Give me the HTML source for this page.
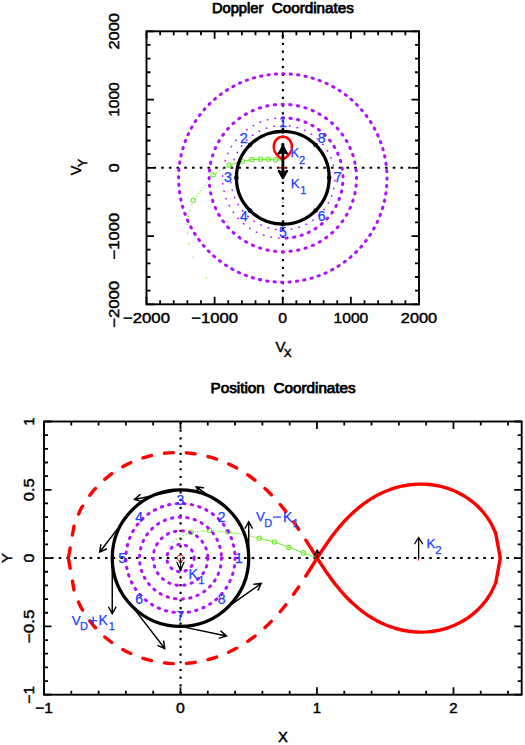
<!DOCTYPE html>
<html><head><meta charset="utf-8"><style>
html,body{margin:0;padding:0;background:#fff;width:525px;height:745px;overflow:hidden}
svg{display:block}
text{font-family:"Liberation Sans",sans-serif}
</style></head><body>
<svg width="525" height="745" viewBox="0 0 525 745">
<rect width="525" height="745" fill="#fff"/>
<line x1="146.5" y1="167.8" x2="419" y2="167.8" stroke="#000" stroke-width="2.0" stroke-dasharray="2.6 5.12" stroke-dashoffset="0.8"/>
<line x1="282.9" y1="31.3" x2="282.9" y2="304.3" stroke="#000" stroke-width="2.2" stroke-dasharray="2.2 5.52" stroke-dashoffset="3.94"/>
<path d="M282,160.2 L275.6,159.8 L268.3,159.3 L260.6,159.3 L251.9,159.6 L242.2,161.3 L229.2,165.3" fill="none" stroke="#66f022" stroke-width="1"/>
<path d="M229.2,165.3 L213.1,174.8 L193.3,200.2" fill="none" stroke="#66f022" stroke-width="1.1" stroke-dasharray="1 2.5"/>
<rect x="191.2" y="203.9" width="1.2" height="1.2" fill="#66f022"/>
<rect x="189.2" y="209.8" width="1.2" height="1.2" fill="#66f022"/>
<rect x="187.8" y="215.9" width="1.2" height="1.2" fill="#66f022"/>
<rect x="186.9" y="223.7" width="1.2" height="1.2" fill="#66f022"/>
<rect x="186.9" y="232.4" width="1.2" height="1.2" fill="#66f022"/>
<rect x="188.2" y="242.9" width="1.2" height="1.2" fill="#66f022"/>
<rect x="192.5" y="256.6" width="1.2" height="1.2" fill="#66f022"/>
<rect x="205.7" y="277" width="1.2" height="1.2" fill="#66f022"/>
<circle cx="275.6" cy="159.8" r="2.25" fill="none" stroke="#66f022" stroke-width="1.05"/>
<circle cx="268.3" cy="159.3" r="2.25" fill="none" stroke="#66f022" stroke-width="1.05"/>
<circle cx="260.6" cy="159.3" r="2.25" fill="none" stroke="#66f022" stroke-width="1.05"/>
<circle cx="251.9" cy="159.6" r="2.25" fill="none" stroke="#66f022" stroke-width="1.05"/>
<circle cx="242.2" cy="161.3" r="2.25" fill="none" stroke="#66f022" stroke-width="1.05"/>
<circle cx="229.2" cy="165.3" r="2.25" fill="none" stroke="#66f022" stroke-width="1.05"/>
<circle cx="213.1" cy="174.8" r="2.25" fill="none" stroke="#66f022" stroke-width="1.05"/>
<circle cx="193.3" cy="200.2" r="2.25" fill="none" stroke="#66f022" stroke-width="1.05"/>
<path d="M284.05,73.81l-1.30,-0.01M276.61,73.98l-1.30,0.09M269.21,74.69l-1.29,0.18M261.87,75.92l-1.27,0.27M254.64,77.67l-1.25,0.36M247.56,79.94l-1.22,0.45M240.65,82.70l-1.19,0.53M233.96,85.95l-1.14,0.62M227.52,89.67l-1.10,0.70M221.36,93.84l-1.05,0.77M215.51,98.44l-0.99,0.85M210.01,103.44l-0.92,0.91M204.87,108.82l-0.86,0.98M200.14,114.56l-0.79,1.04M195.82,120.62l-0.71,1.09M191.95,126.97l-0.63,1.14M188.54,133.58l-0.55,1.18M185.61,140.42l-0.46,1.22M183.18,147.45l-0.37,1.25M181.25,154.63l-0.28,1.27M179.84,161.93l-0.19,1.29M178.96,169.32l-0.10,1.30M178.61,176.75l-0.01,1.30M178.78,184.19l0.09,1.30M179.49,191.59l0.18,1.29M180.72,198.93l0.27,1.27M182.47,206.16l0.36,1.25M184.74,213.24l0.45,1.22M187.50,220.15l0.53,1.19M190.75,226.84l0.62,1.14M194.47,233.28l0.70,1.10M198.64,239.44l0.77,1.05M203.24,245.29l0.85,0.99M208.24,250.79l0.91,0.92M213.62,255.93l0.98,0.86M219.36,260.66l1.04,0.79M225.42,264.98l1.09,0.71M231.77,268.85l1.14,0.63M238.38,272.26l1.18,0.55M245.22,275.19l1.22,0.46M252.25,277.62l1.25,0.37M259.43,279.55l1.27,0.28M266.73,280.96l1.29,0.19M274.12,281.84l1.30,0.10M281.55,282.19l1.30,0.01M288.99,282.02l1.30,-0.09M296.39,281.31l1.29,-0.18M303.73,280.08l1.27,-0.27M310.96,278.33l1.25,-0.36M318.04,276.06l1.22,-0.45M324.95,273.30l1.19,-0.53M331.64,270.05l1.14,-0.62M338.08,266.33l1.10,-0.70M344.24,262.16l1.05,-0.77M350.09,257.56l0.99,-0.85M355.59,252.56l0.92,-0.91M360.73,247.18l0.86,-0.98M365.46,241.44l0.79,-1.04M369.78,235.38l0.71,-1.09M373.65,229.03l0.63,-1.14M377.06,222.42l0.55,-1.18M379.99,215.58l0.46,-1.22M382.42,208.55l0.37,-1.25M384.35,201.37l0.28,-1.27M385.76,194.07l0.19,-1.29M386.64,186.68l0.10,-1.30M386.99,179.25l0.01,-1.30M386.82,171.81l-0.09,-1.30M386.11,164.41l-0.18,-1.29M384.88,157.07l-0.27,-1.27M383.13,149.84l-0.36,-1.25M380.86,142.76l-0.45,-1.22M378.10,135.85l-0.53,-1.19M374.85,129.16l-0.62,-1.14M371.13,122.72l-0.70,-1.10M366.96,116.56l-0.77,-1.05M362.36,110.71l-0.85,-0.99M357.36,105.21l-0.91,-0.92M351.98,100.07l-0.98,-0.86M346.24,95.34l-1.04,-0.79M340.18,91.02l-1.09,-0.71M333.83,87.15l-1.14,-0.63M327.22,83.74l-1.18,-0.55M320.38,80.81l-1.22,-0.46M313.35,78.38l-1.25,-0.37M306.17,76.45l-1.27,-0.28M298.87,75.04l-1.29,-0.19M291.48,74.16l-1.30,-0.10" stroke="#b010ff" stroke-width="3.0" stroke-linecap="round" fill="none"/>
<path d="M283.35,104.30l-1.30,0.00M275.64,104.65l-1.29,0.14M268.01,105.80l-1.27,0.27M260.55,107.74l-1.24,0.40M253.32,110.45l-1.19,0.53M246.42,113.90l-1.12,0.65M239.92,118.05l-1.05,0.77M233.89,122.86l-0.96,0.87M228.40,128.28l-0.87,0.97M223.50,134.24l-0.76,1.05M219.25,140.68l-0.65,1.13M215.69,147.52l-0.53,1.19M212.88,154.70l-0.40,1.24M210.82,162.14l-0.27,1.27M209.56,169.75l-0.13,1.29M209.10,177.45l0.00,1.30M209.45,185.16l0.14,1.29M210.60,192.79l0.27,1.27M212.54,200.25l0.40,1.24M215.25,207.48l0.53,1.19M218.70,214.38l0.65,1.12M222.85,220.88l0.77,1.05M227.66,226.91l0.87,0.96M233.08,232.40l0.97,0.87M239.04,237.30l1.05,0.76M245.48,241.55l1.13,0.65M252.32,245.11l1.19,0.53M259.50,247.92l1.24,0.40M266.94,249.98l1.27,0.27M274.55,251.24l1.29,0.13M282.25,251.70l1.30,-0.00M289.96,251.35l1.29,-0.14M297.59,250.20l1.27,-0.27M305.05,248.26l1.24,-0.40M312.28,245.55l1.19,-0.53M319.18,242.10l1.12,-0.65M325.68,237.95l1.05,-0.77M331.71,233.14l0.96,-0.87M337.20,227.72l0.87,-0.97M342.10,221.76l0.76,-1.05M346.35,215.32l0.65,-1.13M349.91,208.48l0.53,-1.19M352.72,201.30l0.40,-1.24M354.78,193.86l0.27,-1.27M356.04,186.25l0.13,-1.29M356.50,178.55l-0.00,-1.30M356.15,170.84l-0.14,-1.29M355.00,163.21l-0.27,-1.27M353.06,155.75l-0.40,-1.24M350.35,148.52l-0.53,-1.19M346.90,141.62l-0.65,-1.12M342.75,135.12l-0.77,-1.05M337.94,129.09l-0.87,-0.96M332.52,123.60l-0.97,-0.87M326.56,118.70l-1.05,-0.76M320.12,114.45l-1.13,-0.65M313.28,110.89l-1.19,-0.53M306.10,108.08l-1.24,-0.40M298.66,106.02l-1.27,-0.27M291.05,104.76l-1.29,-0.13" stroke="#b010ff" stroke-width="3.0" stroke-linecap="round" fill="none"/>
<path d="M334.80,180.95l0.03,-0.50M334.70,173.16l-0.05,-0.50M333.45,165.48l-0.12,-0.49M331.06,158.07l-0.19,-0.46M327.59,151.09l-0.26,-0.43M323.13,144.71l-0.32,-0.39M317.76,139.07l-0.37,-0.33M311.61,134.29l-0.42,-0.27M304.82,130.48l-0.45,-0.21M297.54,127.73l-0.48,-0.14M289.93,126.09l-0.50,-0.07M282.15,125.60l-0.50,0.01M274.40,126.28l-0.49,0.08M266.83,128.11l-0.48,0.16M259.61,131.04l-0.45,0.22M252.92,135.02l-0.41,0.29M246.89,139.95l-0.36,0.35M241.67,145.72l-0.30,0.40M237.36,152.21l-0.24,0.44M234.07,159.27l-0.17,0.47M231.87,166.74l-0.10,0.49M230.80,174.45l-0.03,0.50M230.90,182.24l0.05,0.50M232.15,189.92l0.12,0.49M234.54,197.33l0.19,0.46M238.01,204.31l0.26,0.43M242.47,210.69l0.32,0.39M247.84,216.33l0.37,0.33M253.99,221.11l0.42,0.27M260.78,224.92l0.45,0.21M268.06,227.67l0.48,0.14M275.67,229.31l0.50,0.07M283.45,229.80l0.50,-0.01M291.20,229.12l0.49,-0.08M298.77,227.29l0.48,-0.16M305.99,224.36l0.45,-0.22M312.68,220.38l0.41,-0.29M318.71,215.45l0.36,-0.35M323.93,209.68l0.30,-0.40M328.24,203.19l0.24,-0.44M331.53,196.13l0.17,-0.47M333.73,188.66l0.10,-0.49" stroke="#b010ff" stroke-width="1.5" stroke-linecap="round" fill="none"/>
<path d="M342.99,176.85l-0.04,-1.30M342.35,169.17l-0.20,-1.28M340.73,161.62l-0.37,-1.25M338.16,154.35l-0.52,-1.19M334.68,147.46l-0.67,-1.11M330.35,141.08l-0.81,-1.02M325.24,135.30l-0.93,-0.91M319.43,130.22l-1.04,-0.78M313.02,125.93l-1.13,-0.64M306.12,122.49l-1.20,-0.49M298.83,119.97l-1.26,-0.33M291.27,118.40l-1.29,-0.17M283.58,117.80l-1.30,-0.00M285.88,238.12l1.30,-0.08M293.54,237.24l1.28,-0.25M301.03,235.38l1.23,-0.41M308.21,232.58l1.17,-0.56M314.98,228.88l1.09,-0.71M321.23,224.35l0.99,-0.84M326.84,219.05l0.88,-0.96M331.73,213.08l0.75,-1.06M335.81,206.54l0.60,-1.15M339.02,199.53l0.45,-1.22M341.31,192.16l0.29,-1.27M342.65,184.56l0.13,-1.29" stroke="#b010ff" stroke-width="3.0" stroke-linecap="round" fill="none"/>
<path d="M275.48,118.25l-0.50,0.06M267.90,119.67l-0.48,0.13M260.56,122.06l-0.46,0.19M253.59,125.36l-0.44,0.24M247.10,129.53l-0.40,0.30M241.20,134.49l-0.36,0.35M235.97,140.17l-0.31,0.39M231.52,146.47l-0.26,0.43M227.91,153.28l-0.20,0.46M225.20,160.50l-0.14,0.48M223.43,168.01l-0.08,0.49M222.64,175.69l-0.02,0.50" stroke="#b010ff" stroke-width="1.5" stroke-linecap="round" fill="none"/>
<path d="M222.84,183.40l0.05,0.50M224.02,191.02l0.11,0.49M226.17,198.43l0.17,0.47M229.25,205.50l0.23,0.44M233.21,212.13l0.29,0.41M237.98,218.19l0.34,0.37M243.49,223.59l0.38,0.32M249.64,228.24l0.42,0.27M256.34,232.07l0.45,0.22M263.47,235.01l0.47,0.16M270.92,237.02l0.49,0.10M278.56,238.05l0.50,0.03" stroke="#b010ff" stroke-width="1.5" stroke-linecap="round" fill="none"/>
<circle cx="282.8" cy="177.75" r="46.4" fill="none" stroke="#000" stroke-width="3.3"/>
<circle cx="329.2" cy="177.75" r="2.3" fill="#000"/>
<circle cx="315.61" cy="144.94" r="2.3" fill="#000"/>
<circle cx="282.8" cy="131.35" r="2.3" fill="#000"/>
<circle cx="249.99" cy="144.94" r="2.3" fill="#000"/>
<circle cx="236.4" cy="177.75" r="2.3" fill="#000"/>
<circle cx="249.99" cy="210.56" r="2.3" fill="#000"/>
<circle cx="282.8" cy="224.15" r="2.3" fill="#000"/>
<circle cx="315.61" cy="210.56" r="2.3" fill="#000"/>
<path d="M282.85,159.60 L281.99,159.03 L281.17,158.45 L280.38,157.88 L279.65,157.31 L278.97,156.74 L278.34,156.16 L277.76,155.59 L277.23,155.02 L276.75,154.45 L276.31,153.88 L275.92,153.30 L275.56,152.73 L275.25,152.16 L274.96,151.58 L274.72,151.01 L274.50,150.44 L274.32,149.87 L274.17,149.29 L274.05,148.72 L273.95,148.15 L273.89,147.58 L273.86,147.00 L273.85,146.43 L273.87,145.86 L273.93,145.29 L274.01,144.71 L274.13,144.14 L274.28,143.57 L274.46,143.00 L274.69,142.42 L274.95,141.85 L275.26,141.28 L275.62,140.71 L276.03,140.13 L276.52,139.56 L277.09,138.99 L277.78,138.42 L278.65,137.84 L279.84,137.27 L282.85,136.70 L285.86,137.27 L287.05,137.84 L287.92,138.42 L288.61,138.99 L289.18,139.56 L289.67,140.13 L290.08,140.71 L290.44,141.28 L290.75,141.85 L291.01,142.42 L291.24,143.00 L291.42,143.57 L291.57,144.14 L291.69,144.71 L291.77,145.29 L291.83,145.86 L291.85,146.43 L291.84,147.00 L291.81,147.58 L291.75,148.15 L291.65,148.72 L291.53,149.29 L291.38,149.87 L291.20,150.44 L290.98,151.01 L290.74,151.58 L290.45,152.16 L290.14,152.73 L289.78,153.30 L289.39,153.88 L288.95,154.45 L288.47,155.02 L287.94,155.59 L287.36,156.16 L286.73,156.74 L286.05,157.31 L285.32,157.88 L284.53,158.45 L283.71,159.03 L282.85,159.60Z" fill="none" stroke="#ff0000" stroke-width="2.6" stroke-linejoin="round"/>
<rect x="279.6" y="167.2" width="6.8" height="1.3" fill="#ff0000"/>
<rect x="282" y="202" width="2" height="1" fill="#ff8080"/>
<path d="M282.9,144.3 L282.9,176" stroke="#000" stroke-width="2.8" stroke-linecap="round"/>
<path d="M282.9,146.2 L287.0,153.6 L282.9,151.8 L278.8,153.6 Z" fill="#000" stroke="#000" stroke-width="2.2" stroke-linejoin="round"/>
<path d="M282.9,178.2 L287.0,171.0 L282.9,172.8 L278.8,171.0 Z" fill="#000" stroke="#000" stroke-width="2.2" stroke-linejoin="round"/>
<text x="282.8" y="127.3" font-size="14" fill="#2040ff" text-anchor="middle" font-weight="normal" stroke="#2040ff" stroke-width="0.25">1</text>
<text x="243.91" y="143.41" font-size="14" fill="#2040ff" text-anchor="middle" font-weight="normal" stroke="#2040ff" stroke-width="0.25">2</text>
<text x="227.8" y="182.3" font-size="14" fill="#2040ff" text-anchor="middle" font-weight="normal" stroke="#2040ff" stroke-width="0.25">3</text>
<text x="243.91" y="221.19" font-size="14" fill="#2040ff" text-anchor="middle" font-weight="normal" stroke="#2040ff" stroke-width="0.25">4</text>
<text x="282.8" y="237.3" font-size="14" fill="#2040ff" text-anchor="middle" font-weight="normal" stroke="#2040ff" stroke-width="0.25">5</text>
<text x="321.69" y="221.19" font-size="14" fill="#2040ff" text-anchor="middle" font-weight="normal" stroke="#2040ff" stroke-width="0.25">6</text>
<text x="337.8" y="182.3" font-size="14" fill="#2040ff" text-anchor="middle" font-weight="normal" stroke="#2040ff" stroke-width="0.25">7</text>
<text x="321.69" y="143.41" font-size="14" fill="#2040ff" text-anchor="middle" font-weight="normal" stroke="#2040ff" stroke-width="0.25">8</text>
<text x="290.6" y="157.4" font-size="12.8" fill="#2040ff" text-anchor="start" font-weight="normal" stroke="#2040ff" stroke-width="0.25">K</text>
<text x="299" y="163.6" font-size="11.2" fill="#2040ff" text-anchor="start" font-weight="normal" stroke="#2040ff" stroke-width="0.25">2</text>
<text x="290.8" y="188.1" font-size="13.3" fill="#2040ff" text-anchor="start" font-weight="normal" stroke="#2040ff" stroke-width="0.25">K</text>
<text x="300.2" y="193.5" font-size="11.0" fill="#2040ff" text-anchor="start" font-weight="normal" stroke="#2040ff" stroke-width="0.25">1</text>
<rect x="146.5" y="31.3" width="272.5" height="273" fill="none" stroke="#000" stroke-width="1.9"/>
<path d="M146.5,304.3v-7.5M146.5,31.3v7.5M146.5,304.3h7.5M419.0,304.3h-7.5M160.12,304.3v-4.0M160.12,31.3v4.0M146.5,290.65h4.0M419.0,290.65h-4.0M173.75,304.3v-4.0M173.75,31.3v4.0M146.5,277h4.0M419.0,277h-4.0M187.38,304.3v-4.0M187.38,31.3v4.0M146.5,263.35h4.0M419.0,263.35h-4.0M201,304.3v-4.0M201,31.3v4.0M146.5,249.7h4.0M419.0,249.7h-4.0M214.62,304.3v-7.5M214.62,31.3v7.5M146.5,236.05h7.5M419.0,236.05h-7.5M228.25,304.3v-4.0M228.25,31.3v4.0M146.5,222.4h4.0M419.0,222.4h-4.0M241.88,304.3v-4.0M241.88,31.3v4.0M146.5,208.75h4.0M419.0,208.75h-4.0M255.5,304.3v-4.0M255.5,31.3v4.0M146.5,195.1h4.0M419.0,195.1h-4.0M269.12,304.3v-4.0M269.12,31.3v4.0M146.5,181.45h4.0M419.0,181.45h-4.0M282.75,304.3v-7.5M282.75,31.3v7.5M146.5,167.8h7.5M419.0,167.8h-7.5M296.38,304.3v-4.0M296.38,31.3v4.0M146.5,154.15h4.0M419.0,154.15h-4.0M310,304.3v-4.0M310,31.3v4.0M146.5,140.5h4.0M419.0,140.5h-4.0M323.62,304.3v-4.0M323.62,31.3v4.0M146.5,126.85h4.0M419.0,126.85h-4.0M337.25,304.3v-4.0M337.25,31.3v4.0M146.5,113.2h4.0M419.0,113.2h-4.0M350.88,304.3v-7.5M350.88,31.3v7.5M146.5,99.55h7.5M419.0,99.55h-7.5M364.5,304.3v-4.0M364.5,31.3v4.0M146.5,85.9h4.0M419.0,85.9h-4.0M378.12,304.3v-4.0M378.12,31.3v4.0M146.5,72.25h4.0M419.0,72.25h-4.0M391.75,304.3v-4.0M391.75,31.3v4.0M146.5,58.6h4.0M419.0,58.6h-4.0M405.38,304.3v-4.0M405.38,31.3v4.0M146.5,44.95h4.0M419.0,44.95h-4.0M419,304.3v-7.5M419,31.3v7.5M146.5,31.3h7.5M419.0,31.3h-7.5" stroke="#000" stroke-width="1.8"/>
<line x1="44" y1="558.1" x2="521.7" y2="558.1" stroke="#000" stroke-width="2.0" stroke-dasharray="2.6 5.12" stroke-dashoffset="0.76"/>
<line x1="180.59" y1="421.5" x2="180.59" y2="694.7" stroke="#000" stroke-width="2.2" stroke-dasharray="2.2 5.52" stroke-dashoffset="7.38"/>
<path d="M316.6,557.6 L303.4,552.8 L289,547.4 L274.5,542 L259.3,538.2" fill="none" stroke="#66f022" stroke-width="1"/>
<path d="M259.3,538.2 L243.5,534.6 L227.9,531.8" fill="none" stroke="#66f022" stroke-width="1" stroke-dasharray="1.6 0.9"/>
<path d="M227.9,531.8 L209.6,530.4 L191,532.3" fill="none" stroke="#66f022" stroke-width="1" stroke-dasharray="1 1.3"/>
<rect x="186.1" y="533.7" width="1.2" height="1.2" fill="#66f022"/>
<rect x="182.7" y="535.1" width="1.2" height="1.2" fill="#66f022"/>
<rect x="178.9" y="537" width="1.2" height="1.2" fill="#66f022"/>
<rect x="175.6" y="538.9" width="1.2" height="1.2" fill="#66f022"/>
<rect x="172.7" y="541.1" width="1.2" height="1.2" fill="#66f022"/>
<rect x="168.9" y="545.3" width="1.2" height="1.2" fill="#66f022"/>
<circle cx="303.4" cy="552.8" r="2.25" fill="none" stroke="#66f022" stroke-width="1.05"/>
<circle cx="289" cy="547.4" r="2.25" fill="none" stroke="#66f022" stroke-width="1.05"/>
<circle cx="274.5" cy="542" r="2.25" fill="none" stroke="#66f022" stroke-width="1.05"/>
<circle cx="259.3" cy="538.2" r="2.25" fill="none" stroke="#66f022" stroke-width="1.05"/>
<circle cx="227.9" cy="531.8" r="2.25" fill="none" stroke="#66f022" stroke-width="1.05"/>
<circle cx="209.6" cy="530.4" r="2.25" fill="none" stroke="#66f022" stroke-width="1.05"/>
<circle cx="191" cy="532.3" r="2.25" fill="none" stroke="#66f022" stroke-width="1.05"/>
<circle cx="180.49" cy="558.1" r="13.65" fill="none" stroke="#b010ff" stroke-width="3.0" stroke-dasharray="1.4 6.25" stroke-dashoffset="0.0" stroke-linecap="round"/>
<circle cx="180.49" cy="558.1" r="27.3" fill="none" stroke="#b010ff" stroke-width="3.0" stroke-dasharray="1.4 6.25" stroke-dashoffset="0.0" stroke-linecap="round"/>
<circle cx="180.49" cy="558.1" r="40.95" fill="none" stroke="#b010ff" stroke-width="3.0" stroke-dasharray="1.4 6.25" stroke-dashoffset="0.0" stroke-linecap="round"/>
<circle cx="180.49" cy="558.1" r="54.59" fill="none" stroke="#b010ff" stroke-width="3.0" stroke-dasharray="1.4 6.25" stroke-dashoffset="0.0" stroke-linecap="round"/>
<circle cx="180.49" cy="558.1" r="68.24" fill="none" stroke="#000" stroke-width="3.3"/>
<path d="M248.73,558.1L248.73,521.7M245.14,528.17L248.73,521.7L252.32,528.17" fill="none" stroke="#000" stroke-width="1.45" stroke-linecap="round" stroke-linejoin="miter"/>
<path d="M228.74,509.85L196.21,486.92M199.44,493.58L196.21,486.92L203.57,487.71" fill="none" stroke="#000" stroke-width="1.45" stroke-linecap="round" stroke-linejoin="miter"/>
<path d="M180.49,489.86L134.49,499.46M141.55,501.65L134.49,499.46L140.09,494.62" fill="none" stroke="#000" stroke-width="1.45" stroke-linecap="round" stroke-linejoin="miter"/>
<path d="M132.23,509.85L99.7,551.97M106.5,549.04L99.7,551.97L100.82,544.66" fill="none" stroke="#000" stroke-width="1.45" stroke-linecap="round" stroke-linejoin="miter"/>
<path d="M112.24,558.1L112.24,613.7M115.83,607.23L112.24,613.7L108.66,607.23" fill="none" stroke="#000" stroke-width="1.45" stroke-linecap="round" stroke-linejoin="miter"/>
<path d="M132.23,606.35L164.76,648.48M163.64,641.17L164.76,648.48L157.96,645.55" fill="none" stroke="#000" stroke-width="1.45" stroke-linecap="round" stroke-linejoin="miter"/>
<path d="M180.49,626.34L226.49,635.94M220.88,631.11L226.49,635.94L219.42,638.13" fill="none" stroke="#000" stroke-width="1.45" stroke-linecap="round" stroke-linejoin="miter"/>
<path d="M228.74,606.35L261.27,583.43M253.91,584.22L261.27,583.43L258.04,590.09" fill="none" stroke="#000" stroke-width="1.45" stroke-linecap="round" stroke-linejoin="miter"/>
<path d="M68.37,558.10 L74.59,522.88 L80.81,509.03 L87.03,498.92 L93.25,490.85 L99.47,484.14 L105.69,478.46 L111.91,473.58 L118.12,469.38 L124.34,465.77 L130.56,462.68 L136.78,460.05 L143.00,457.85 L149.22,456.06 L155.44,454.65 L161.66,453.60 L167.88,452.90 L174.10,452.54 L180.32,452.52 L186.54,452.83 L192.76,453.48 L198.98,454.46 L205.20,455.78 L211.42,457.44 L217.64,459.47 L223.86,461.86 L230.08,464.64 L236.29,467.83 L242.51,471.45 L248.73,475.52 L254.95,480.09 L261.17,485.18 L267.39,490.85 L273.61,497.13 L279.83,504.06 L286.05,511.68 L292.27,520.00 L298.49,528.97 L304.71,538.47 L310.93,548.27 L317.15,558.10" fill="none" stroke="#ff0000" stroke-width="3.4" stroke-dasharray="8.9 13.1" stroke-dashoffset="20.6" stroke-linecap="round"/>
<path d="M317.15,558.1L310.73,547.96" fill="none" stroke="#ff0000" stroke-width="3.4"/>
<path d="M68.37,558.10 L74.59,593.32 L80.81,607.17 L87.03,617.28 L93.25,625.35 L99.47,632.06 L105.69,637.74 L111.91,642.62 L118.12,646.82 L124.34,650.43 L130.56,653.52 L136.78,656.15 L143.00,658.35 L149.22,660.14 L155.44,661.55 L161.66,662.60 L167.88,663.30 L174.10,663.66 L180.32,663.68 L186.54,663.37 L192.76,662.72 L198.98,661.74 L205.20,660.42 L211.42,658.76 L217.64,656.73 L223.86,654.34 L230.08,651.56 L236.29,648.37 L242.51,644.75 L248.73,640.68 L254.95,636.11 L261.17,631.02 L267.39,625.35 L273.61,619.07 L279.83,612.14 L286.05,604.52 L292.27,596.20 L298.49,587.23 L304.71,577.73 L310.93,567.93 L317.15,558.10" fill="none" stroke="#ff0000" stroke-width="3.4" stroke-dasharray="8.9 13.1" stroke-dashoffset="20.6" stroke-linecap="round"/>
<path d="M317.15,558.1L310.73,568.24" fill="none" stroke="#ff0000" stroke-width="3.4"/>
<path d="M317.15,558.10 L321.73,551.04 L326.31,544.25 L330.88,537.81 L335.46,531.78 L340.04,526.17 L344.62,520.99 L349.20,516.24 L353.78,511.90 L358.36,507.94 L362.94,504.35 L367.52,501.11 L372.10,498.19 L376.68,495.58 L381.25,493.26 L385.83,491.23 L390.41,489.47 L394.99,487.96 L399.57,486.71 L404.15,485.71 L408.73,484.95 L413.31,484.43 L417.89,484.15 L422.47,484.11 L427.05,484.31 L431.62,484.75 L436.20,485.45 L440.78,486.41 L445.36,487.64 L449.94,489.16 L454.52,490.98 L459.10,493.14 L463.68,495.67 L468.26,498.62 L472.84,502.05 L477.42,506.05 L481.99,510.77 L486.57,516.45 L491.15,523.57 L495.73,533.32 L500.31,558.10 L495.73,582.88 L491.15,592.63 L486.57,599.75 L481.99,605.43 L477.42,610.15 L472.84,614.15 L468.26,617.58 L463.68,620.53 L459.10,623.06 L454.52,625.22 L449.94,627.04 L445.36,628.56 L440.78,629.79 L436.20,630.75 L431.62,631.45 L427.05,631.89 L422.47,632.09 L417.89,632.05 L413.31,631.77 L408.73,631.25 L404.15,630.49 L399.57,629.49 L394.99,628.24 L390.41,626.73 L385.83,624.97 L381.25,622.94 L376.68,620.62 L372.10,618.01 L367.52,615.09 L362.94,611.85 L358.36,608.26 L353.78,604.30 L349.20,599.96 L344.62,595.21 L340.04,590.03 L335.46,584.42 L330.88,578.39 L326.31,571.95 L321.73,565.16 L317.15,558.10Z" fill="none" stroke="#ff0000" stroke-width="3.4" stroke-linejoin="round"/>
<circle cx="180.49" cy="558.1" r="3.2" fill="none" stroke="#ff0000" stroke-width="0.9"/>
<path d="M180.49,558.1L180.49,570.2M183.98,562.34L180.49,570.2L176.99,562.34" fill="none" stroke="#000" stroke-width="1.3" stroke-linecap="round" stroke-linejoin="miter"/>
<path d="M418.65,556.6v4" stroke="#ff0000" stroke-width="1"/>
<path d="M418.65,558.1L418.65,537.4M414.68,543.76L418.65,537.4L422.63,543.76" fill="none" stroke="#000" stroke-width="1.3" stroke-linecap="round" stroke-linejoin="miter"/>
<path d="M317.15,558.1L317.15,550M314.4,554.76L317.15,550L319.9,554.76" fill="none" stroke="#000" stroke-width="1.3" stroke-linecap="round" stroke-linejoin="miter"/>
<text x="238.79" y="563.1" font-size="14" fill="#2040ff" text-anchor="middle" font-weight="normal" stroke="#2040ff" stroke-width="0.25">1</text>
<text x="221.71" y="521.88" font-size="14" fill="#2040ff" text-anchor="middle" font-weight="normal" stroke="#2040ff" stroke-width="0.25">2</text>
<text x="180.49" y="504.8" font-size="14" fill="#2040ff" text-anchor="middle" font-weight="normal" stroke="#2040ff" stroke-width="0.25">3</text>
<text x="139.26" y="521.88" font-size="14" fill="#2040ff" text-anchor="middle" font-weight="normal" stroke="#2040ff" stroke-width="0.25">4</text>
<text x="122.19" y="563.1" font-size="14" fill="#2040ff" text-anchor="middle" font-weight="normal" stroke="#2040ff" stroke-width="0.25">5</text>
<text x="139.26" y="604.32" font-size="14" fill="#2040ff" text-anchor="middle" font-weight="normal" stroke="#2040ff" stroke-width="0.25">6</text>
<text x="180.49" y="621.4" font-size="14" fill="#2040ff" text-anchor="middle" font-weight="normal" stroke="#2040ff" stroke-width="0.25">7</text>
<text x="221.71" y="604.32" font-size="14" fill="#2040ff" text-anchor="middle" font-weight="normal" stroke="#2040ff" stroke-width="0.25">8</text>
<text x="188.4" y="578.6" font-size="14" fill="#2040ff" text-anchor="start" font-weight="normal" stroke="#2040ff" stroke-width="0.25">K</text>
<text x="198.2" y="583.6" font-size="11.2" fill="#2040ff" text-anchor="start" font-weight="normal" stroke="#2040ff" stroke-width="0.25">1</text>
<text x="426.4" y="548.1" font-size="13.6" fill="#2040ff" text-anchor="start" font-weight="normal" stroke="#2040ff" stroke-width="0.25">K</text>
<text x="435.2" y="553.7" font-size="11.4" fill="#2040ff" text-anchor="start" font-weight="normal" stroke="#2040ff" stroke-width="0.25">2</text>
<text x="255.9" y="521.1" font-size="13.4" fill="#2040ff" text-anchor="start" font-weight="normal" stroke="#2040ff" stroke-width="0.25">V</text>
<text x="264.2" y="526.8" font-size="11.0" fill="#2040ff" text-anchor="start" font-weight="normal" stroke="#2040ff" stroke-width="0.25">D</text>
<path d="M273,517.1h8" stroke="#2040ff" stroke-width="1.25"/>
<text x="283" y="521.6" font-size="14" fill="#2040ff" text-anchor="start" font-weight="normal" stroke="#2040ff" stroke-width="0.25">K</text>
<text x="292.6" y="526.8" font-size="11.0" fill="#2040ff" text-anchor="start" font-weight="normal" stroke="#2040ff" stroke-width="0.25">1</text>
<text x="71.7" y="625" font-size="13.4" fill="#2040ff" text-anchor="start" font-weight="normal" stroke="#2040ff" stroke-width="0.25">V</text>
<text x="80" y="630.2" font-size="11.0" fill="#2040ff" text-anchor="start" font-weight="normal" stroke="#2040ff" stroke-width="0.25">D</text>
<path d="M88.9,620.7h8.5M93.15,616.4v8.5" stroke="#2040ff" stroke-width="1.25"/>
<text x="98.6" y="625" font-size="14" fill="#2040ff" text-anchor="start" font-weight="normal" stroke="#2040ff" stroke-width="0.25">K</text>
<text x="108.8" y="630.2" font-size="11.0" fill="#2040ff" text-anchor="start" font-weight="normal" stroke="#2040ff" stroke-width="0.25">1</text>
<rect x="44.0" y="421.5" width="477.7" height="273.2" fill="none" stroke="#000" stroke-width="1.9"/>
<path d="M44,694.7v-7.5M44,421.5v7.5M71.3,694.7v-4.0M71.3,421.5v4.0M98.59,694.7v-4.0M98.59,421.5v4.0M125.89,694.7v-4.0M125.89,421.5v4.0M153.19,694.7v-4.0M153.19,421.5v4.0M180.49,694.7v-7.5M180.49,421.5v7.5M207.78,694.7v-4.0M207.78,421.5v4.0M235.08,694.7v-4.0M235.08,421.5v4.0M262.38,694.7v-4.0M262.38,421.5v4.0M289.67,694.7v-4.0M289.67,421.5v4.0M316.97,694.7v-7.5M316.97,421.5v7.5M344.27,694.7v-4.0M344.27,421.5v4.0M371.57,694.7v-4.0M371.57,421.5v4.0M398.86,694.7v-4.0M398.86,421.5v4.0M426.16,694.7v-4.0M426.16,421.5v4.0M453.46,694.7v-7.5M453.46,421.5v7.5M480.75,694.7v-4.0M480.75,421.5v4.0M508.05,694.7v-4.0M508.05,421.5v4.0M44.0,694.7h7.5M521.7,694.7h-7.5M44.0,681.04h4.0M521.7,681.04h-4.0M44.0,667.38h4.0M521.7,667.38h-4.0M44.0,653.72h4.0M521.7,653.72h-4.0M44.0,640.06h4.0M521.7,640.06h-4.0M44.0,626.4h7.5M521.7,626.4h-7.5M44.0,612.74h4.0M521.7,612.74h-4.0M44.0,599.08h4.0M521.7,599.08h-4.0M44.0,585.42h4.0M521.7,585.42h-4.0M44.0,571.76h4.0M521.7,571.76h-4.0M44.0,558.1h7.5M521.7,558.1h-7.5M44.0,544.44h4.0M521.7,544.44h-4.0M44.0,530.78h4.0M521.7,530.78h-4.0M44.0,517.12h4.0M521.7,517.12h-4.0M44.0,503.46h4.0M521.7,503.46h-4.0M44.0,489.8h7.5M521.7,489.8h-7.5M44.0,476.14h4.0M521.7,476.14h-4.0M44.0,462.48h4.0M521.7,462.48h-4.0M44.0,448.82h4.0M521.7,448.82h-4.0M44.0,435.16h4.0M521.7,435.16h-4.0M44.0,421.5h7.5M521.7,421.5h-7.5" stroke="#000" stroke-width="1.8"/>
<text x="212" y="13.1" font-size="14" fill="#000" text-anchor="start" font-weight="normal" textLength="51.3" lengthAdjust="spacingAndGlyphs" stroke="#000" stroke-width="0.75">Doppler</text>
<text x="271.8" y="13.1" font-size="14" fill="#000" text-anchor="start" font-weight="normal" textLength="82" lengthAdjust="spacingAndGlyphs" stroke="#000" stroke-width="0.75">Coordinates</text>
<text x="210.5" y="392.7" font-size="14" fill="#000" text-anchor="start" font-weight="normal" textLength="54.3" lengthAdjust="spacingAndGlyphs" stroke="#000" stroke-width="0.75">Position</text>
<text x="273.6" y="392.7" font-size="14" fill="#000" text-anchor="start" font-weight="normal" textLength="82" lengthAdjust="spacingAndGlyphs" stroke="#000" stroke-width="0.75">Coordinates</text>
<text x="146.5" y="322.6" font-size="15" fill="#000" text-anchor="middle" font-weight="normal" textLength="46.9" lengthAdjust="spacingAndGlyphs" stroke="#000" stroke-width="0.45">−2000</text>
<text x="214.62" y="322.6" font-size="15" fill="#000" text-anchor="middle" font-weight="normal" textLength="46.7" lengthAdjust="spacingAndGlyphs" stroke="#000" stroke-width="0.45">−1000</text>
<text x="282.75" y="322.6" font-size="15" fill="#000" text-anchor="middle" font-weight="normal" textLength="8.8" lengthAdjust="spacingAndGlyphs" stroke="#000" stroke-width="0.45">0</text>
<text x="350.88" y="322.6" font-size="15" fill="#000" text-anchor="middle" font-weight="normal" textLength="34.6" lengthAdjust="spacingAndGlyphs" stroke="#000" stroke-width="0.45">1000</text>
<text x="419" y="322.6" font-size="15" fill="#000" text-anchor="middle" font-weight="normal" textLength="36.4" lengthAdjust="spacingAndGlyphs" stroke="#000" stroke-width="0.45">2000</text>
<text transform="translate(118.8,304.3) rotate(-90)" font-size="15" fill="#000" text-anchor="middle" font-weight="normal" textLength="46.9" lengthAdjust="spacingAndGlyphs" stroke="#000" stroke-width="0.45">−2000</text>
<text transform="translate(118.8,236.05) rotate(-90)" font-size="15" fill="#000" text-anchor="middle" font-weight="normal" textLength="46.7" lengthAdjust="spacingAndGlyphs" stroke="#000" stroke-width="0.45">−1000</text>
<text transform="translate(118.8,167.8) rotate(-90)" font-size="15" fill="#000" text-anchor="middle" font-weight="normal" textLength="8.8" lengthAdjust="spacingAndGlyphs" stroke="#000" stroke-width="0.45">0</text>
<text transform="translate(118.8,99.55) rotate(-90)" font-size="15" fill="#000" text-anchor="middle" font-weight="normal" textLength="34.6" lengthAdjust="spacingAndGlyphs" stroke="#000" stroke-width="0.45">1000</text>
<text transform="translate(118.8,31.3) rotate(-90)" font-size="15" fill="#000" text-anchor="middle" font-weight="normal" textLength="36.4" lengthAdjust="spacingAndGlyphs" stroke="#000" stroke-width="0.45">2000</text>
<text x="275.5" y="351.9" font-size="14.8" fill="#000" text-anchor="start" font-weight="normal" stroke="#000" stroke-width="0.45">V</text>
<text x="283.8" y="357.1" font-size="11.8" fill="#000" text-anchor="start" font-weight="normal" stroke="#000" stroke-width="0.45">X</text>
<g transform="translate(80.6,175.2) rotate(-90)" stroke="#000" stroke-width="0.45"><text x="0" y="0" font-size="14.4" fill="#000">V</text><text x="8.2" y="6.0" font-size="12" fill="#000">Y</text></g>
<text x="44" y="712.6" font-size="15" fill="#000" text-anchor="middle" font-weight="normal" textLength="17.7" lengthAdjust="spacingAndGlyphs" stroke="#000" stroke-width="0.45">−1</text>
<text x="180.49" y="712.6" font-size="15" fill="#000" text-anchor="middle" font-weight="normal" textLength="8.8" lengthAdjust="spacingAndGlyphs" stroke="#000" stroke-width="0.45">0</text>
<text x="316.97" y="712.6" font-size="15" fill="#000" text-anchor="middle" font-weight="normal" stroke="#000" stroke-width="0.45">1</text>
<text x="453.46" y="712.6" font-size="15" fill="#000" text-anchor="middle" font-weight="normal" stroke="#000" stroke-width="0.45">2</text>
<text transform="translate(34.4,694.7) rotate(-90)" font-size="15" fill="#000" text-anchor="middle" font-weight="normal" textLength="17.7" lengthAdjust="spacingAndGlyphs" stroke="#000" stroke-width="0.45">−1</text>
<text transform="translate(34.4,626.4) rotate(-90)" font-size="15" fill="#000" text-anchor="middle" font-weight="normal" textLength="33.7" lengthAdjust="spacingAndGlyphs" stroke="#000" stroke-width="0.45">−0.5</text>
<text transform="translate(34.4,558.1) rotate(-90)" font-size="15" fill="#000" text-anchor="middle" font-weight="normal" textLength="8.8" lengthAdjust="spacingAndGlyphs" stroke="#000" stroke-width="0.45">0</text>
<text transform="translate(34.4,489.8) rotate(-90)" font-size="15" fill="#000" text-anchor="middle" font-weight="normal" textLength="22.9" lengthAdjust="spacingAndGlyphs" stroke="#000" stroke-width="0.45">0.5</text>
<text transform="translate(34.4,421.5) rotate(-90)" font-size="15" fill="#000" text-anchor="middle" font-weight="normal" stroke="#000" stroke-width="0.45">1</text>
<text x="283" y="741.9" font-size="14.8" fill="#000" text-anchor="middle" font-weight="normal" stroke="#000" stroke-width="0.45">X</text>
<text transform="translate(12.4,558.1) rotate(-90)" font-size="14.8" fill="#000" text-anchor="middle" font-weight="normal" stroke="#000" stroke-width="0.45">Y</text>
</svg>
</body></html>
